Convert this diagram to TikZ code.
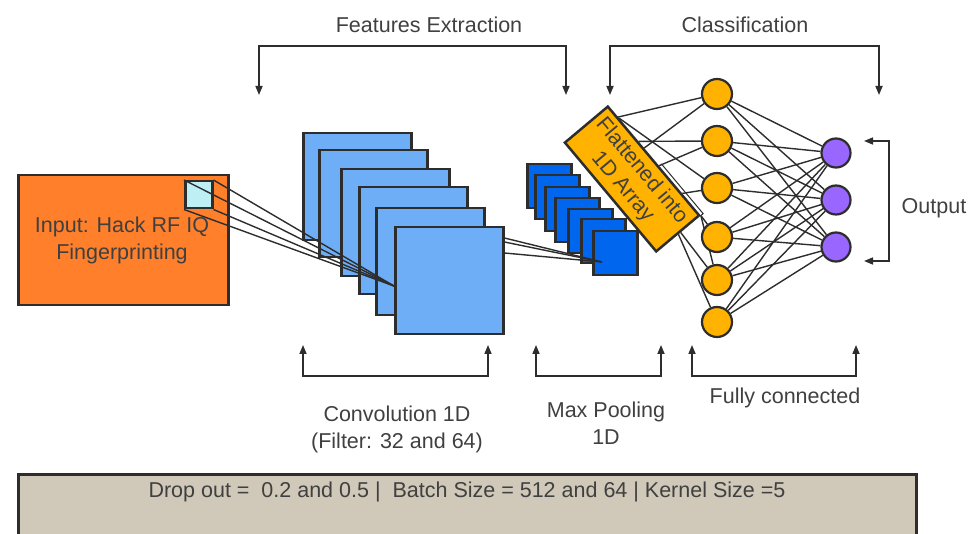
\documentclass[tikz,border=0pt]{standalone}
\usepackage{fontspec}
\setmainfont{Liberation Sans}
\usetikzlibrary{arrows.meta,backgrounds,calc}
\definecolor{txt}{RGB}{64,64,64}
\definecolor{edge}{RGB}{45,45,45}
\definecolor{inorange}{RGB}{255,127,42}
\definecolor{cyanish}{RGB}{190,239,245}
\definecolor{convblue}{RGB}{110,174,246}
\definecolor{poolblue}{RGB}{0,102,238}
\definecolor{amber}{RGB}{255,178,0}
\definecolor{violetn}{RGB}{153,102,255}
\definecolor{sand}{RGB}{208,200,184}
\begin{document}
\begin{tikzpicture}[x=1pt,y=-1pt,
  font=\fontsize{21.5}{27}\selectfont,
  box/.style={draw=edge,line width=2.5pt},
  convsq/.style={box,fill=convblue,minimum width=108pt,minimum height=107pt,inner sep=0,anchor=north west},
  poolsq/.style={box,fill=poolblue,minimum size=44pt,inner sep=0,anchor=north west},
  neuron/.style={circle,draw=edge,line width=2.2pt,fill=amber,minimum size=30pt,inner sep=0},
  outn/.style={neuron,fill=violetn,minimum size=29pt},
  wire/.style={draw=edge,line width=1.4pt},
  brk/.style={draw=edge,line width=1.6pt,line join=miter,
    {Triangle[length=9pt,width=7pt]}-{Triangle[length=9pt,width=7pt]}},
  lbl/.style={text=txt,align=center,inner sep=0}]
\useasboundingbox (0,0) rectangle (974,534);
\clip (0,0) rectangle (974,534);

% bottom hyper-parameter box
\node[draw=edge,line width=2.5pt,fill=sand,minimum width=898pt,minimum height=100pt,anchor=north west,inner sep=0] (hp) at (17,473) {};
\node[lbl] (hptxt) at (467,492) {Drop out =\ \ 0.2 and 0.5 |\ \ Batch Size = 512 and 64 | Kernel Size =5};

% input
\node[box,fill=inorange,minimum width=210pt,minimum height=130pt,anchor=north west,inner sep=0] (inp) at (17,174) {};
\node[lbl] (inptxt) at (122,240.5) {Input: Hack RF IQ\\Fingerprinting};
\node[box,fill=cyanish,minimum size=27pt,anchor=north west,inner sep=0] (cy) at (184,180) {};

% convolution stack
\node[convsq] (c1) at (302,132) {};
\node[convsq] (c2) at (318,149) {};
\node[convsq] (c3) at (340,168) {};
\node[convsq] (c4) at (358,186) {};
\node[convsq] (c5) at (375,207) {};
\node[convsq] (c6) at (394,226) {};
\coordinate (ct) at ($(c6.north west)+(0,60)$);
\draw[wire] (cy.north west) -- (ct);
\draw[wire] (cy.north east) -- (ct);
\draw[wire] (cy.south east) -- (ct);
\draw[wire] (cy.south west) -- (ct);

% max pooling stack
\node[poolsq] (p1) at (526,163) {};
\node[poolsq] (p2) at (534,174) {};
\node[poolsq] (p3) at (544,186) {};
\node[poolsq] (p4) at (554,197) {};
\node[poolsq] (p5) at (567,208) {};
\node[poolsq] (p6) at (580,218) {};
\node[poolsq] (p7) at (592,230) {};
\coordinate (pt) at ($(p7.north west)+(10,32)$);
\draw[wire] ($(c6.north east)+(0,12)$) -- (pt);
\draw[wire] ($(c6.north east)+(0,16)$) -- (pt);
\draw[wire] ($(c6.north east)+(0,27)$) -- (pt);

% flattened array
\node[box,fill=amber,minimum width=142pt,minimum height=56pt,rotate=-50,inner sep=0,
      text=txt,align=center,font=\fontsize{21.5}{25}\selectfont] (fl) at (632,179) {Flattened into\\1D Array};
\draw[draw=edge,line width=1pt] ($(fl.north west)!0.55!(fl.north east)+(2.3,-1.9)$) -- ($(fl.north east)+(2.3,-1.9)$) -- (fl.north east);

% neurons
\node[neuron] (o1) at (717,94) {};
\node[neuron] (o2) at (717,141) {};
\node[neuron] (o3) at (717,188) {};
\node[neuron] (o4) at (717,237) {};
\node[neuron] (o5) at (717,280) {};
\node[neuron] (o6) at (717,322) {};
\node[outn] (q1) at (836,153) {};
\node[outn] (q2) at (836,200) {};
\node[outn] (q3) at (836,247) {};

\begin{scope}[on background layer]
  \foreach \a in {o1,o2,o3,o4,o5,o6}{
    \foreach \b in {q1,q2,q3}{
      \draw[wire] (\a) -- (\b);
    }
  }
  \draw[wire] ($(fl.north west)!0.11!(fl.north east)$) -- (o1);
  \draw[wire] (o1) -- ($(fl.north west)!0.39!(fl.north east)$);
  \draw[wire] ($(fl.north west)!0.12!(fl.north east)$) -- (o3);
  \draw[wire] ($(fl.north west)!0.33!(fl.north east)$) -- (o2);
  \draw[wire] ($(fl.north west)!0.55!(fl.north east)$) -- (o2);
  \draw[wire] ($(fl.north west)!0.8!(fl.north east)$) -- (o3);
  \draw[wire] (fl.north east) -- (o4);
  \draw[wire] (fl.north east) -- (o5);
  \draw[wire] ($(fl.east)!0.1!(fl.north east)$) -- (o5);
  \draw[wire] (fl.east) -- (o6);
\end{scope}

% brackets
\coordinate (fa) at (259,95); \coordinate (fb) at (566,95);
\draw[brk] (fa) -- ++(0,-49) -| (fb);
\coordinate (ka) at (610,95); \coordinate (kb) at (879,95);
\draw[brk] (ka) -- ++(0,-49) -| (kb);
\coordinate (cva) at (303,345); \coordinate (cvb) at (488,345);
\draw[brk] (cva) -- ++(0,31) -| (cvb);
\coordinate (mpa) at (536,345); \coordinate (mpb) at (661,345);
\draw[brk] (mpa) -- ++(0,31) -| (mpb);
\coordinate (fca) at (692,345); \coordinate (fcb) at (856,345);
\draw[brk] (fca) -- ++(0,31) -| (fcb);
\coordinate (opa) at (864,141); \coordinate (opb) at (864,261);
\draw[brk] (opa) -- ++(25,0) |- (opb);

% labels
\node[lbl] (lfe) at (429,25) {Features Extraction};
\node[lbl] (lcl) at (745,25) {Classification};
\node[lbl] (lcv) at (397,429.5) {Convolution 1D\\(Filter: 32 and 64)};
\node[lbl] (lmp) at (606,423.5) {Max Pooling\\1D};
\node[lbl] (lfc) at (785,398) {Fully connected};
\node[lbl] (lop) at (934,208) {Output};
\end{tikzpicture}
\end{document}
